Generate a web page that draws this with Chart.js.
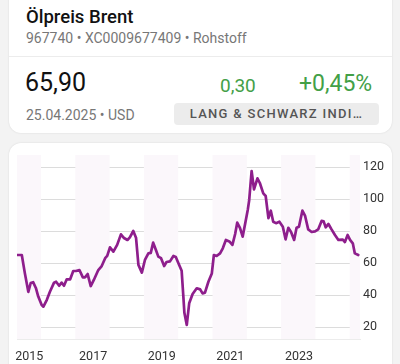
<!DOCTYPE html>
<html>
<head>
<meta charset="utf-8">
<script src="https://cdn.jsdelivr.net/npm/chart.js@4"></script>
<style>
  html, body { margin: 0; padding: 0; }
  body { width: 400px; height: 364px; background: #f3f3f3; font-family: Roboto, "Noto Sans", sans-serif; position: relative; overflow: hidden; }
  .card { position: absolute; left: 9px; width: 383px; background: #fff; border-radius: 12px; box-shadow: 0 0 2px rgba(0,0,0,0.12); }
  #head { top: -20px; height: 153px; }
  #chartCard { top: 143px; height: 240px; }
  .abs { position: absolute; white-space: nowrap; }
  #title { left: 17px; top: 26px; font-size: 18.5px; font-weight: 500; color: #111; }
  #sub { left: 17px; top: 50px; font-size: 14px; color: #777; }
  #div { left: 0; right: 0; top: 76px; height: 1px; background: #ececec; }
  #price { left: 16px; top: 88px; font-size: 25px; color: #111; }
  #chg { left: 211px; top: 94px; font-size: 19px; color: #43a047; }
  #pct { left: 290px; top: 90px; font-size: 23px; color: #43a047; }
  #date { left: 17px; top: 127px; font-size: 14px; color: #777; }
  #badge { left: 165px; top: 123px; width: 205px; height: 22px; background: #ececec; border-radius: 4px; font-size: 13px; font-weight: 500; color: #555; letter-spacing: 1.3px; line-height: 22px; text-align: center; }
  canvas { position: absolute; left: 0; top: 0; }
</style>
</head>
<body>
<div class="card" id="head">
  <div class="abs" id="title">Ölpreis Brent</div>
  <div class="abs" id="sub">967740 • XC0009677409 • Rohstoff</div>
  <div class="abs" id="div"></div>
  <div class="abs" id="price">65,90</div>
  <div class="abs" id="chg">0,30</div>
  <div class="abs" id="pct">+0,45%</div>
  <div class="abs" id="date">25.04.2025 • USD</div>
  <div class="abs" id="badge">LANG &amp; SCHWARZ INDI…</div>
</div>
<div class="card" id="chartCard"></div>
<canvas id="c" width="400" height="364"></canvas>
<script>
// decimal year and Brent price (USD)
const dates = [
  2015.31, 2015.44, 2015.53, 2015.63, 2015.70, 2015.77, 2015.85, 2015.92, 2016.02, 2016.07,
  2016.17, 2016.26, 2016.38, 2016.44, 2016.53, 2016.60, 2016.67, 2016.75, 2016.85, 2016.94,
  2017.02, 2017.12, 2017.22, 2017.28, 2017.36, 2017.45, 2017.54, 2017.67, 2017.77, 2017.87,
  2017.93, 2018.01, 2018.11, 2018.22, 2018.33, 2018.42, 2018.52, 2018.59, 2018.69, 2018.77,
  2018.84, 2018.94, 2019.03, 2019.13, 2019.20, 2019.27, 2019.35, 2019.42, 2019.50, 2019.59,
  2019.66, 2019.76, 2019.86, 2019.93, 2020.00, 2020.10, 2020.15, 2020.18, 2020.25, 2020.32,
  2020.42, 2020.54, 2020.64, 2020.71, 2020.78, 2020.88, 2020.98, 2021.04, 2021.12, 2021.22,
  2021.30, 2021.39, 2021.49, 2021.58, 2021.66, 2021.72, 2021.80, 2021.88, 2021.95, 2022.03,
  2022.07, 2022.14, 2022.21, 2022.31, 2022.38, 2022.48, 2022.55, 2022.63, 2022.70, 2022.77,
  2022.85, 2022.95, 2023.05, 2023.13, 2023.21, 2023.29, 2023.38, 2023.45, 2023.52, 2023.62,
  2023.70, 2023.79, 2023.89, 2023.99, 2024.08, 2024.18, 2024.24, 2024.30, 2024.38, 2024.47,
  2024.57, 2024.67, 2024.80, 2024.86, 2024.94, 2025.01, 2025.09, 2025.15, 2025.25
];
const prices = [
  65, 65, 53.5, 42, 47.5, 48, 44.4, 39, 33.7, 32.7,
  37, 42, 47.7, 48.3, 45.8, 47.7, 45.8, 49.8, 49.8, 55,
  55, 55.6, 51, 51, 53.1, 45.6, 49.4, 55.6, 58.1, 63,
  64.4, 69.8, 67.1, 71.3, 77.9, 75.6, 74.4, 76, 80, 75.8,
  58.8, 54, 61.9, 66, 66.3, 72.7, 68.1, 64, 63, 58.1,
  60.6, 61, 64.4, 63.8, 60.2, 55.2, 39, 28.9, 21.3, 34.8,
  40.6, 44.2, 43.5, 41, 41.5, 48.3, 53.5, 65, 64.4, 66,
  69.2, 74.4, 73.5, 71.3, 78.1, 85.2, 82, 76.5, 84.4, 93.5,
  99.4, 117.5, 106, 112.9, 110, 103.5, 101.9, 88, 92.7, 85.8,
  84.9, 85.8, 82.7, 74.8, 82, 79.4, 74.4, 82, 82.7, 92.7,
  89.4, 81, 79.4, 79.8, 81, 86.3, 86, 82.3, 84.4, 81,
  77.5, 74.4, 74.6, 73.1, 77.5, 74.4, 72.3, 66, 65
];
const yTicks = [20, 40, 60, 80, 100, 120];
const yearLabels = [2015, 2017, 2019, 2021, 2023];
const labelPos = [2015.66, 2017.52, 2019.52, 2021.52, 2023.52];
const bandYears = [2015, 2017, 2019, 2021, 2023, 2025];

const bands = {
  id: 'bands',
  beforeDatasetsDraw(chart) {
    const { ctx, chartArea: a, scales: { x } } = chart;
    ctx.save();
    ctx.fillStyle = '#fbf7fb';
    bandYears.forEach(yr => {
      const l = Math.max(a.left, x.getPixelForValue(yr));
      const r = Math.min(a.right, x.getPixelForValue(yr + 1));
      if (r > l) ctx.fillRect(l, a.top, r - l, a.bottom - a.top);
    });
    ctx.restore();
  }
};

new Chart(document.getElementById('c'), {
  type: 'line',
  data: {
    datasets: [{
      data: dates.map((d, i) => ({ x: d, y: prices[i] })),
      borderColor: '#8e1e8c',
      borderWidth: 2.7,
      pointRadius: 0,
      tension: 0,
      borderJoinStyle: 'round',
      borderCapStyle: 'round'
    }]
  },
  options: {
    responsive: false,
    animation: false,
    events: [],
    layout: { padding: { top: 155, left: 17, right: 0, bottom: 0 } },
    plugins: { legend: { display: false }, tooltip: { enabled: false } },
    scales: {
      x: {
        type: 'linear',
        min: 2015.3,
        max: 2025.3,
        grid: { display: false },
        border: { display: true, color: '#ececec' },
        afterBuildTicks: s => { s.ticks = labelPos.map(v => ({ value: v })); },
        afterFit: s => { s.height = 25; },
        ticks: {
          autoSkip: false,
          maxRotation: 0,
          padding: 2,
          color: '#333',
          font: { family: 'Roboto', size: 12.5 },
          callback: (v, i) => String(yearLabels[i])
        }
      },
      y: {
        position: 'right',
        min: 12.5,
        max: 127.5,
        grid: { color: '#dcdcdc', lineWidth: 1, drawTicks: false },
        border: { display: false },
        afterBuildTicks: s => { s.ticks = yTicks.map(v => ({ value: v })); },
        afterFit: s => { s.width = 40; },
        ticks: {
          padding: 3,
          color: '#333',
          font: { family: 'Roboto', size: 12.5 }
        }
      }
    }
  },
  plugins: [bands]
});
</script>
</body>
</html>
